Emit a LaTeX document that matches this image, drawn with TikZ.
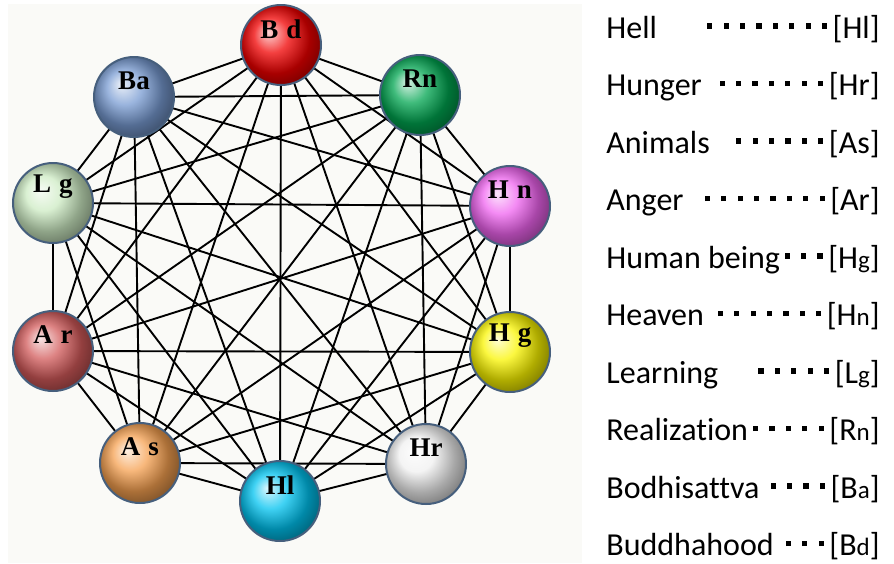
\documentclass[tikz,border=0pt]{standalone}
\usepackage{fontspec}
\setmainfont{Carlito}[Ligatures={NoCommon}]
\newfontfamily\ballfont{Liberation Serif}
\usetikzlibrary{backgrounds}
\definecolor{rimblue}{RGB}{70, 95, 125}
\definecolor{scanpaper}{RGB}{250, 250, 247}
\definecolor{bdred}{RGB}{240, 0, 0}
\definecolor{rngreen}{RGB}{0, 165, 80}
\definecolor{hnviolet}{RGB}{240, 100, 240}
\definecolor{hgyellow}{RGB}{250, 245, 0}
\definecolor{hrwhite}{RGB}{240, 240, 240}
\definecolor{hlcyan}{RGB}{0, 195, 240}
\definecolor{asorange}{RGB}{245, 160, 80}
\definecolor{arbrown}{RGB}{210, 90, 90}
\definecolor{lgmint}{RGB}{205, 235, 195}
\definecolor{bablue}{RGB}{120, 155, 210}
\newcommand\lsp{\hspace{4pt}}
\newcommand\sm[1]{{\fontsize{12.5}{14}\selectfont #1}}
\newcommand\sqd{\hspace{2.8pt}\rule[4.7pt]{2.6pt}{2.6pt}\hspace{2.8pt}}
\newcommand\dotrow[1]{\foreach \k in {1,...,#1}{\sqd}}
\tikzset{
  worldball/.style={circle, minimum size=40pt, inner sep=0pt, draw=rimblue, line width=1pt,
    path picture={\shade[ball color=#1] ([shift={(3pt,-3pt)}]path picture bounding box.center) circle (24pt);}},
  balllabel/.style={font=\ballfont\bfseries\fontsize{13.5}{14}\selectfont, yshift=8pt},
  tieline/.style={line width=0.95pt, black},
  legname/.style={anchor=base west, inner sep=0pt, font=\fontsize{16}{19}\selectfont},
  legkey/.style={anchor=base east, inner sep=0pt, font=\fontsize{16}{19}\selectfont},
}

\begin{document}
\begin{tikzpicture}[x=0.5pt, y=-0.5pt]
  \useasboundingbox (0,0) rectangle (894,563);
  % the ten worlds
  \node[worldball=bdred,    label={[balllabel]center:B\lsp d}] (Bd) at (281,45) {};
  \node[worldball=rngreen,  label={[balllabel]center:Rn}]      (Rn) at (420,95) {};
  \node[worldball=hnviolet, label={[balllabel]center:H\lsp n}] (Hn) at (510,206) {};
  \node[worldball=hgyellow, label={[balllabel]center:H\lsp g}] (Hg) at (510,352) {};
  \node[worldball=hrwhite,  label={[balllabel]center:Hr}]      (Hr) at (426,464) {};
  \node[worldball=hlcyan,   label={[balllabel]center:Hl}]      (Hl) at (280,501) {};
  \node[worldball=asorange, label={[balllabel]center:A\lsp s}] (As) at (140,463) {};
  \node[worldball=arbrown,  label={[balllabel]center:A\lsp r}] (Ar) at (53,351) {};
  \node[worldball=lgmint,   label={[balllabel]center:L\lsp g}] (Lg) at (53,203) {};
  \node[worldball=bablue,   label={[balllabel]center:Ba}]      (Ba) at (134,97) {};
  % every world linked to every other
  \begin{scope}[on background layer]
    \fill[scanpaper] (8,4) rectangle (582,563);
    \foreach \a [count=\i] in {Bd,Rn,Hn,Hg,Hr,Hl,As,Ar,Lg,Ba}
      \foreach \b [count=\j] in {Bd,Rn,Hn,Hg,Hr,Hl,As,Ar,Lg,Ba}{
        \ifnum\j>\i \draw[tieline] (\a.center) -- (\b.center); \fi
      }
  \end{scope}
  % legend
  \foreach \nm/\nd/\key [count=\r from 0] in {Hell/8/Hl, Hunger/7/Hr, Animals/6/As, Anger/8/Ar,
      Human being/3/H\sm{g}, Heaven/7/H\sm{n}, Learning/5/L\sm{g}, Realization/5/R\sm{n},
      Bodhisattva/4/B\sm{a}, Buddhahood/3/B\sm{d}}{
    \node[legname] (name\r) at (606,{38+57.5*\r}) {\nm};
    \node[legkey] (key\r) at (880,{38+57.5*\r}) {\dotrow{\nd}[\key]};
  }
\end{tikzpicture}
\end{document}
